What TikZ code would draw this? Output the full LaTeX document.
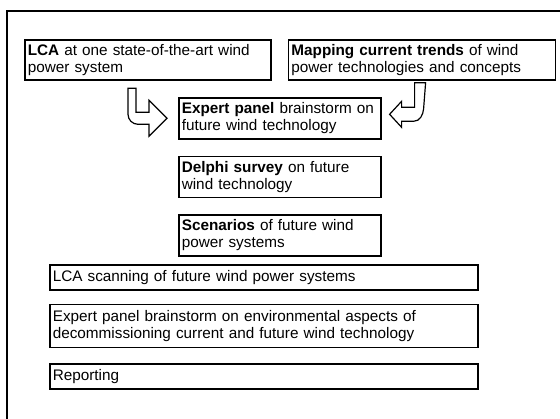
\documentclass[tikz,border=0pt]{standalone}
\usepackage{fontspec}
\setmainfont{Liberation Sans}
\usetikzlibrary{positioning}

\tikzset{
    stage/.style={draw, line width=1.6pt, rectangle, anchor=north west, align=left,
        inner sep=3pt, font=\fontsize{15.3}{17}\selectfont},
    bentarrow/.style={draw, line width=1.2pt, fill=white}
}

\begin{document}
\begin{tikzpicture}[x=1pt, y=-1pt]

    \useasboundingbox (0,0) rectangle (560,419);
    \draw[line width=2.8pt] (7,430) -- (7,11) -- (570,11);

    \node[stage, minimum height=40pt, text width=240pt] (lca) at (24,39)
        {\textbf{LCA} at one state-of-the-art wind\\power system};
    \node[stage, minimum height=40pt, text width=261pt] (trends) [right=16pt of lca]
        {\textbf{Mapping current trends} of wind\\power technologies and concepts};

    \node[stage, minimum height=41pt, text width=196pt] (panel) at (178,97)
        {\textbf{Expert panel} brainstorm on\\future wind technology};
    \node[stage, minimum height=41pt, text width=196pt] (delphi) [below=16pt of panel]
        {\textbf{Delphi survey} on future\\wind technology};
    \node[stage, minimum height=41pt, text width=196pt] (scenarios) [below=16pt of delphi]
        {\textbf{Scenarios} of future wind\\power systems};

    \node[stage, minimum height=25pt, text width=422pt] (scan) at (49,264)
        {LCA scanning of future wind power systems};
    \node[stage, minimum height=43pt, text width=422pt] (decom) [below=13pt of scan]
        {Expert panel brainstorm on environmental aspects of\\decommissioning current and future wind technology};
    \node[stage, minimum height=25pt, text width=422pt] (report) [below=15pt of decom]
        {Reporting};

    % bent block arrows feeding the expert panel
    \draw[bentarrow] ([xshift=-11pt]panel.west) coordinate (ltip)
        -- ++(-18,-18) -- ++(0,12) -- ++(-13,0) -- ++(0,-24) -- ++(-8,0)
        -- ++(0,26) to[out=-90, in=180] ++(10,10) -- ++(11,0) -- ++(0,12) -- cycle;

    \draw[bentarrow] ([xshift=8pt, yshift=4pt]panel.east) coordinate (rtip)
        -- ++(12,-13) -- ++(0,6) -- ++(13,0) -- ++(0,-24.5) -- ++(11,0)
        -- ++(-2,26) to[out=-95, in=0] ++(-10,12.5) -- ++(-12,0) -- ++(0,6) -- cycle;

\end{tikzpicture}
\end{document}
